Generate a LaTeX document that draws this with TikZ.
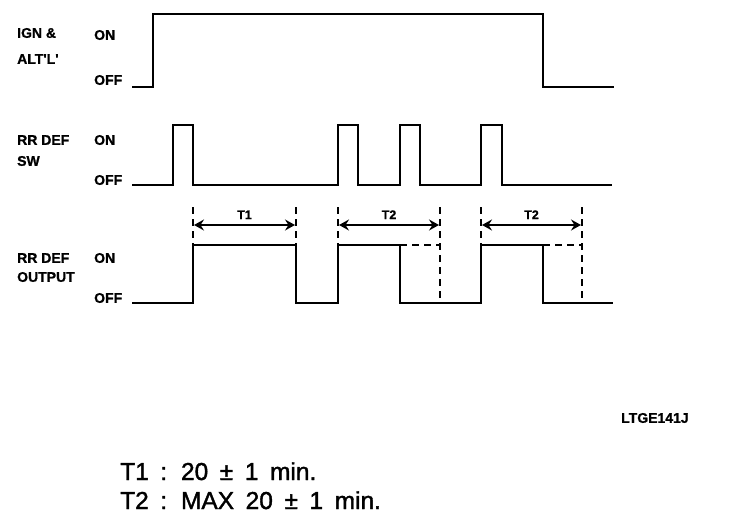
\documentclass[tikz,border=0pt]{standalone}
\usepackage{fontspec}
\setmainfont{Liberation Sans}
\newfontfamily\tagfont[FakeBold=1]{Liberation Sans Bold}
\newfontfamily\notefont[WordSpace=1.7,FakeBold=1.5]{Liberation Sans}
\usetikzlibrary{arrows.meta}

\begin{document}
\begin{tikzpicture}[x=1pt,y=-1pt,>={Stealth[length=10pt,width=11pt,inset=3.5pt]},
    line join=miter]

  \tikzstyle{signal}=[line width=2.6pt]
  \tikzstyle{guide}=[line width=2.2pt,dash pattern=on 7pt off 5pt]
  \tikzstyle{span}=[<->,line width=1.8pt]
  \tikzstyle{tag}=[font=\tagfont\fontsize{14}{14}\selectfont,
                   anchor=west,inner sep=0pt]
  \tikzstyle{period}=[font=\tagfont\fontsize{12.5}{12.5}\selectfont,
                      inner sep=0pt,above=5pt]
  \tikzstyle{note}=[font=\notefont\fontsize{24.5}{24.5}\selectfont,
                    anchor=base west,inner sep=0pt]

  \useasboundingbox (0,0) rectangle (736,530);

  % IGN & ALT'L'
  \node [tag] (ign)     at (17,33) {IGN \&};
  \node [tag] (alt)     at (17,59) {ALT'L'};
  \node [tag] (ign on)  at (94,35) {ON};
  \node [tag] (ign off) at (94,80) {OFF};
  \draw [signal] (132,87) -- (153,87) -- (153,14) -- (543,14)
    -- (543,87) -- (614,87);

  % RR DEF SW
  \node [tag] (sw)     at (17,140) {RR DEF};
  \node [tag] (sw2)    at (17,161) {SW};
  \node [tag] (sw on)  at (94,140) {ON};
  \node [tag] (sw off) at (94,180) {OFF};
  \draw [signal] (132,185) -- (173,185) -- (173,125) -- (193,125)
    -- (193,185) -- (338,185) -- (338,125) -- (358,125) -- (358,185)
    -- (400,185) -- (400,125) -- (420,125) -- (420,185) -- (481,185)
    -- (481,125) -- (502,125) -- (502,185) -- (612,185);

  % RR DEF OUTPUT
  \node [tag] (out)     at (17,258) {RR DEF};
  \node [tag] (out2)    at (17,277) {OUTPUT};
  \node [tag] (out on)  at (94,258) {ON};
  \node [tag] (out off) at (94,298) {OFF};
  \draw [signal] (132,303) -- (193,303) -- (193,245) -- (296,245)
    -- (296,303) -- (338,303) -- (338,245) -- (400,245) -- (400,303)
    -- (481,303) -- (481,245) -- (543,245) -- (543,303) -- (613,303);
  \draw [guide] (400,245) -- (440,245);
  \draw [guide] (543,245) -- (582,245);
  \foreach \x in {193,296,338,481}
    \draw [guide] (\x,207) -- (\x,245);
  \foreach \x in {440,582}
    \draw [guide] (\x,207) -- (\x,303);

  % periods
  \coordinate (t1 start) at (194,225);
  \coordinate (t1 end)   at (295,225);
  \coordinate (t2 start) at (339,225);
  \coordinate (t2 end)   at (439,225);
  \coordinate (t3 start) at (482,225);
  \coordinate (t3 end)   at (581,225);
  \draw [span] (t1 start) -- (t1 end) node [period,midway] (t1) {T1};
  \draw [span] (t2 start) -- (t2 end) node [period,midway] (t2) {T2};
  \draw [span] (t3 start) -- (t3 end) node [period,midway] (t3) {T2};

  \node [tag] (code) at (621,418) {LTGE141J};

  \node [note] (n1) at (120,480) {T1 : 20 ± 1 min.};
  \node [note] (n2) at (120,509) {T2 : MAX 20 ± 1 min.};
\end{tikzpicture}
\end{document}
